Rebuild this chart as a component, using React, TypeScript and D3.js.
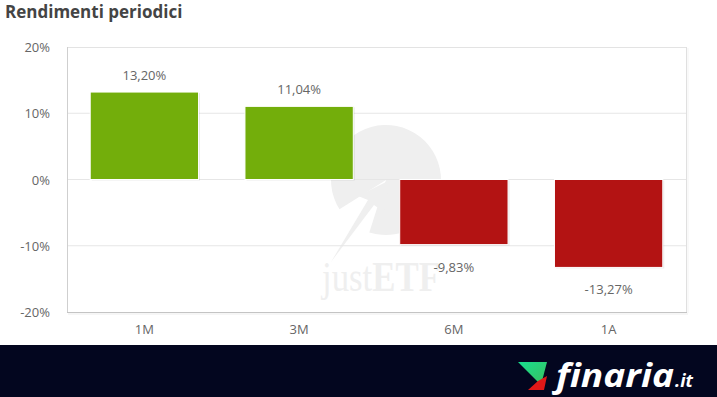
import React from 'react';
import * as d3 from 'd3';

const periods = ['1M', '3M', '6M', '1A'];
const returns = [13.2, 11.04, -9.83, -13.27];
const yTicks = [-20, -10, 0, 10, 20];

const W = 717, H = 397;
const font = '"Open Sans", "Noto Sans", sans-serif';

export default function App() {
  const x = d3.scaleBand().domain(periods).range([67, 686]).paddingInner(0.3).paddingOuter(0.15);
  const y = d3.scaleLinear().domain([-20, 20]).range([312, 47]);
  const fmt = (v: number) => v.toFixed(2).replace('.', ',') + '%';

  // watermark pie (justETF logo) with a wedge cut out bottom-left
  const pie = d3.arc()({ innerRadius: 0, outerRadius: 55, startAngle: 4.15, endAngle: 3.45 + Math.PI * 2 } as any);

  return (
    <svg width={W} height={H} style={{ position: 'absolute', left: 0, top: 0, background: '#fff' }}>
      <text x={5} y={18} fontFamily={font} fontSize={17} fontWeight={700} fill="#444">Rendimenti periodici</text>

      {/* watermark */}
      <g fill="#efefef">
        <path d={pie as string} transform="translate(386,180)" />
        <polygon points="331,262 368,200 358,196 390,180 384,212 374,205" />
        <text x={322} y={291} fontFamily='"Liberation Serif", serif' fontSize={42} textLength={118} lengthAdjust="spacingAndGlyphs">
          just<tspan fontWeight={700}>ETF</tspan>
        </text>
      </g>

      {/* grid */}
      {yTicks.slice(1, -1).map(t => (
        <line key={t} x1={67} x2={686} y1={y(t)} y2={y(t)} stroke="#e6e6e6" />
      ))}
      <line x1={67} x2={686} y1={y(20) + 0.5} y2={y(20) + 0.5} stroke="#e3e3e3" />
      <line x1={686.5} x2={686.5} y1={47} y2={312} stroke="#e0e0e0" />
      <line x1={688} x2={688} y1={48} y2={313} stroke="#f3f3f3" />
      <line x1={67.5} x2={67.5} y1={47} y2={312} stroke="#cfcfcf" />
      <line x1={67} x2={687} y1={312.5} y2={312.5} stroke="#c4c4c4" />
      <line x1={68} x2={688} y1={314} y2={314} stroke="#ededed" />

      {/* y axis labels */}
      {yTicks.map(t => (
        <text key={t} x={50} y={y(t) + 5} textAnchor="end" fontFamily={font} fontSize={13} fill="#666">{t}%</text>
      ))}

      {/* bars */}
      {periods.map((p, i) => {
        const v = returns[i];
        const x0 = x(p)!;
        const top = y(Math.max(0, v)), bot = y(Math.min(0, v));
        const color = v >= 0 ? '#73ae0b' : '#b31313';
        return (
          <g key={p}>
            <rect x={x0 + 1.5} y={top + 1} width={x.bandwidth()} height={bot - top} fill="#000" opacity={0.08} />
            <rect x={x0} y={top} width={x.bandwidth()} height={bot - top} fill={color} stroke="#fff" strokeWidth={1} />
            <text x={x0 + x.bandwidth() / 2} y={v >= 0 ? top - 12 : bot + 27} textAnchor="middle" fontFamily={font} fontSize={13} fill="#666">{fmt(v)}</text>
            <text x={x0 + x.bandwidth() / 2} y={334} textAnchor="middle" fontFamily={font} fontSize={13} fill="#666">{p}</text>
          </g>
        );
      })}

      {/* footer */}
      <rect x={0} y={345} width={W} height={52} fill="#03061f" />
      <defs>
        <linearGradient id="gr" x1="0" y1="0" x2="1" y2="1">
          <stop offset="0" stopColor="#17e08f" />
          <stop offset="1" stopColor="#3cbf5e" />
        </linearGradient>
      </defs>
      <polygon points="518,362 547,362 541,385" fill="url(#gr)" />
      <polygon points="538,381 547,376 544,390 528,390" fill="#e01818" />
      <text x={556} y={387} fontFamily={font} fontSize={33} fontWeight={700} fontStyle="italic" fill="#fff" textLength={118} lengthAdjust="spacingAndGlyphs">finaria</text>
      <text x={675} y={387} fontFamily={font} fontSize={18} fontWeight={700} fontStyle="italic" fill="#fff">.it</text>
    </svg>
  );
}
